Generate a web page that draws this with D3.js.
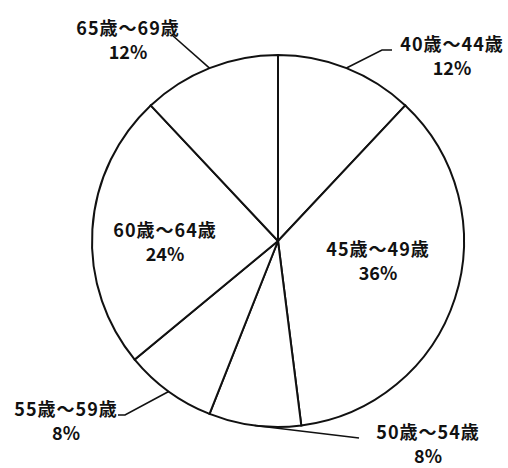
<!DOCTYPE html>
<html>
<head>
<meta charset="utf-8">
<script src="https://cdn.jsdelivr.net/npm/d3@7"></script>
<style>
  body { margin: 0; background: white; }
  text { font-family: "Noto Sans CJK JP", "Noto Sans", sans-serif; font-weight: bold; fill: #111; }
</style>
</head>
<body>
<div id="chart"></div>
<script>
// data
var ageGroups = ['40歳～44歳', '45歳～49歳', '50歳～54歳', '55歳～59歳', '60歳～64歳', '65歳～69歳'];
var shares = [12, 36, 8, 8, 24, 12];

// label layout, offsets from pie centre (not data)
var labelPos = [
    { x: 174, y: -198, leader: [[104, -191], [114, -191]] },
    { x: 100, y: 7 },
    { x: 150, y: 190, leader: [[81, 197]] },
    { x: -212, y: 167, leader: [[-153, 174], [-160, 174]] },
    { x: -113, y: -12 },
    { x: -150, y: -214, leader: [[-106, -206]] }
];

var width = 508;
var height = 468;
var cx = 278;
var cy = 241;
var radius = 186;

var svg = d3.select('#chart').append('svg')
    .attr('width', width)
    .attr('height', height);

var g = svg.append('g').attr('transform', `translate(${cx},${cy})`);

var pie = d3.pie().sort(null).value(d => d);
var arcs = pie(shares);
var arc = d3.arc().innerRadius(0).outerRadius(radius);

g.selectAll('path.slice')
    .data(arcs)
    .enter()
    .append('path')
    .attr('class', 'slice')
    .attr('d', arc)
    .attr('fill', 'white')
    .attr('stroke', '#111')
    .attr('stroke-width', 2);

// leader lines from arc midpoints
var line = d3.line();
arcs.forEach((a, i) => {
    var lp = labelPos[i];
    if (!lp.leader) return;
    var mid = (a.startAngle + a.endAngle) / 2;
    var start = [radius * Math.sin(mid), -radius * Math.cos(mid)];
    g.append('path')
        .attr('d', line([start].concat(lp.leader)))
        .attr('fill', 'none')
        .attr('stroke', '#111')
        .attr('stroke-width', 1.6);
});

var labels = g.selectAll('g.label')
    .data(arcs)
    .enter()
    .append('g')
    .attr('class', 'label')
    .attr('transform', (d, i) => `translate(${labelPos[i].x},${labelPos[i].y})`);

labels.append('text')
    .attr('text-anchor', 'middle')
    .attr('dominant-baseline', 'central')
    .attr('y', 0)
    .attr('font-size', 18)
    .attr('letter-spacing', 1)
    .text((d, i) => ageGroups[i]);

labels.append('text')
    .attr('text-anchor', 'middle')
    .attr('dominant-baseline', 'central')
    .attr('y', 24)
    .attr('font-size', 18)
    .text(d => d.data + '%');
</script>
</body>
</html>
